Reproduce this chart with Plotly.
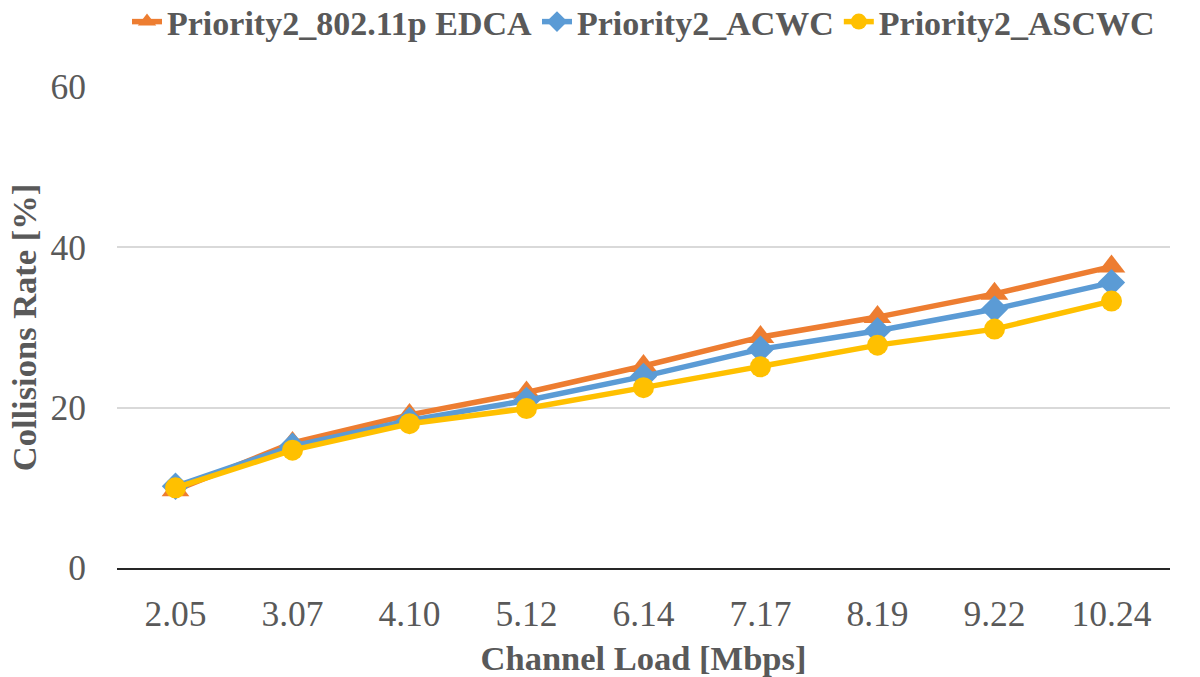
import plotly.graph_objects as go

loads = ["2.05", "3.07", "4.10", "5.12", "6.14", "7.17", "8.19", "9.22", "10.24"]
edca = [9.7, 15.6, 19.1, 21.9, 25.2, 28.8, 31.3, 34.2, 37.6]
acwc = [10.2, 15.2, 18.4, 20.9, 23.9, 27.3, 29.6, 32.3, 35.6]
ascwc = [10.0, 14.7, 18.0, 19.9, 22.5, 25.1, 27.8, 29.8, 33.3]

series = [
    ("Priority2_802.11p EDCA", edca, "#ED7D31", "triangle-up", 24),
    ("Priority2_ACWC", acwc, "#5B9BD5", "diamond", 21),
    ("Priority2_ASCWC", ascwc, "#FFC000", "circle", 21),
]

fig = go.Figure()
for name, vals, col, sym, sz in series:
    fig.add_trace(go.Scatter(
        x=loads, y=vals, name=name, mode="lines+markers",
        line=dict(color=col, width=5.5),
        marker=dict(symbol=sym, size=sz, color=col),
    ))

fig.update_layout(
    width=1200, height=677,
    margin=dict(l=117, r=30, t=87, b=109),
    paper_bgcolor="white", plot_bgcolor="white",
    font=dict(family="Liberation Serif, Times New Roman, serif", color="#595959", size=35),
    legend=dict(
        orientation="h", x=0.5, xanchor="center", y=0.9675, yanchor="middle",
        yref="container",
        font=dict(size=34, color="#595959", family="Liberation Serif, serif", weight="bold"),
        tracegroupgap=0,
    ),
    xaxis=dict(
        type="category", range=[-0.5, 8.5], showgrid=False, showline=True,
        linecolor="#262626", linewidth=1.5,
        ticks="", ticklabelstandoff=14, tickfont=dict(size=35.5, color="#595959"),
        automargin=False,
        title=dict(text="<b>Channel Load [Mbps]</b>", font=dict(size=34.5, color="#595959"), standoff=14),
    ),
    yaxis=dict(
        range=[0, 60], tickvals=[0, 20, 40, 60], showgrid=True, gridcolor="#D9D9D9", gridwidth=1.5,
        zeroline=False, showline=False, ticks="", ticklabelstandoff=30,
        tickfont=dict(size=35.5, color="#595959"), automargin=False,
        title=dict(text="<b>Collisions Rate [%]</b>", font=dict(size=34.5, color="#595959"), standoff=3),
    ),
)

fig.write_html("out.html")
